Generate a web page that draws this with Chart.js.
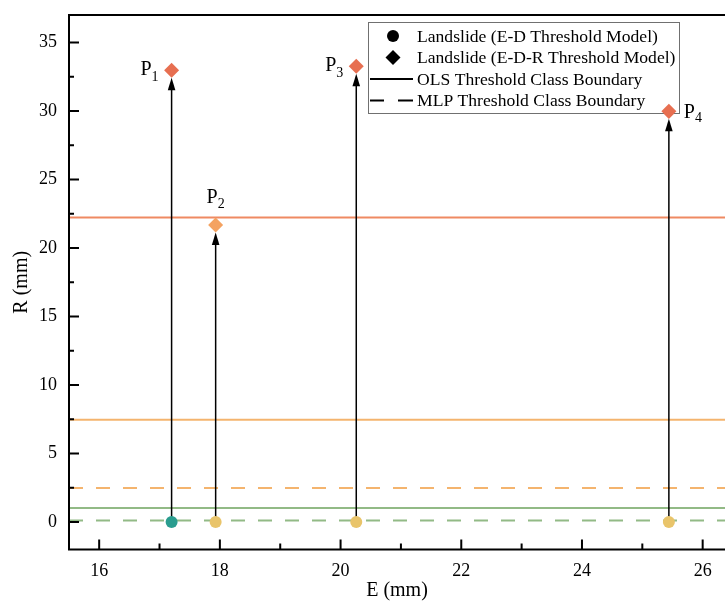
<!DOCTYPE html>
<html>
<head>
    <title>E-D-R Threshold Landslides</title>
    <script src="https://cdn.jsdelivr.net/npm/chart.js@4.4.0/dist/chart.umd.min.js"></script>
    <style>
        html, body { margin: 0; padding: 0; background: #fff; overflow: hidden; }
        #wrap { width: 725px; height: 610px; }
    </style>
</head>
<body>
    <div id="wrap"><canvas id="chart" width="725" height="610"></canvas></div>
    <script>
        // axis ticks
        const xTicks = [16, 18, 20, 22, 24, 26];
        const xMinor = [17, 19, 21, 23, 25];
        const yTicks = [0, 5, 10, 15, 20, 25, 30, 35];
        const yMinor = [2.5, 7.5, 12.5, 17.5, 22.5, 27.5, 32.5];

        // landslide events: E (mm), R from E-D model, R from E-D-R model
        const eValues = [17.20, 17.93, 20.26, 25.44];
        const edValues = [0, 0, 0, 0];
        const edrValues = [32.96, 21.68, 33.26, 29.97];
        const pointNames = ['1', '2', '3', '4'];

        // class boundaries (R, mm)
        const olsLevels = [22.23, 7.47, 1.02];
        const mlpLevels = [2.48, 0.12];

        const legendLabels = [
            'Landslide (E-D Threshold Model)',
            'Landslide (E-D-R Threshold Model)',
            'OLS Threshold Class Boundary',
            'MLP Threshold Class Boundary'
        ];

        const X_MIN = 15.5, X_MAX = 26.37, Y_MIN = -2, Y_MAX = 37;
        const SERIF = "'Times New Roman', 'Liberation Serif', serif";

        const circleColors = ['#2A9D8F', '#E9C46A', '#E9C46A', '#E9C46A'];
        const diamondColors = ['#E76F51', '#F4A261', '#E76F51', '#E76F51'];
        const olsColors = ['#EF8A62', '#F4B46E', '#92BA86'];
        const mlpColors = ['#F4B46E', '#92BA86'];
        const labelPlace = ['left', 'top', 'left', 'right'];

        const datasets = [
            {
                label: 'ED',
                data: eValues.map((e, i) => ({ x: e, y: edValues[i] })),
                pointStyle: 'circle',
                pointRadius: 6,
                pointBackgroundColor: circleColors,
                pointBorderWidth: 0,
                showLine: false
            },
            {
                label: 'EDR',
                data: eValues.map((e, i) => ({ x: e, y: edrValues[i] })),
                pointStyle: 'rectRot',
                pointRadius: 7.5,
                pointBackgroundColor: diamondColors,
                pointBorderWidth: 0,
                showLine: false
            }
        ];
        olsLevels.forEach((v, i) => datasets.push({
            label: 'OLS ' + i,
            data: [{ x: X_MIN, y: v }, { x: X_MAX, y: v }],
            showLine: true,
            borderColor: olsColors[i],
            borderWidth: 2,
            pointRadius: 0
        }));
        mlpLevels.forEach((v, i) => datasets.push({
            label: 'MLP ' + i,
            data: [{ x: X_MIN, y: v }, { x: X_MAX, y: v }],
            showLine: true,
            borderColor: mlpColors[i],
            borderWidth: 2,
            borderDash: [14, 13],
            pointRadius: 0
        }));

        function drawArrows(chart) {
            const ctx = chart.ctx, xs = chart.scales.x, ys = chart.scales.y;
            ctx.save();
            ctx.strokeStyle = '#000';
            ctx.fillStyle = '#000';
            ctx.lineWidth = 1.5;
            eValues.forEach((e, i) => {
                const px = xs.getPixelForValue(e);
                const y0 = ys.getPixelForValue(edValues[i]);
                const tip = ys.getPixelForValue(edrValues[i]) + 7.5;
                ctx.beginPath();
                ctx.moveTo(px, y0);
                ctx.lineTo(px, tip + 10);
                ctx.stroke();
                ctx.beginPath();
                ctx.moveTo(px, tip);
                ctx.lineTo(px - 3.8, tip + 12.5);
                ctx.lineTo(px + 3.8, tip + 12.5);
                ctx.closePath();
                ctx.fill();
            });
            ctx.restore();
        }

        function drawFrame(chart) {
            const ctx = chart.ctx, a = chart.chartArea, xs = chart.scales.x, ys = chart.scales.y;
            ctx.save();
            ctx.strokeStyle = '#000';
            ctx.lineWidth = 2;
            ctx.beginPath();
            ctx.moveTo(a.right, a.top);
            ctx.lineTo(a.left, a.top);
            ctx.lineTo(a.left, a.bottom);
            ctx.lineTo(a.right, a.bottom);
            ctx.stroke();
            ctx.beginPath();
            xTicks.forEach(v => { const p = xs.getPixelForValue(v); ctx.moveTo(p, a.bottom); ctx.lineTo(p, a.bottom - 10); });
            xMinor.forEach(v => { const p = xs.getPixelForValue(v); ctx.moveTo(p, a.bottom); ctx.lineTo(p, a.bottom - 6); });
            yTicks.forEach(v => { const p = ys.getPixelForValue(v); ctx.moveTo(a.left, p); ctx.lineTo(a.left + 10, p); });
            yMinor.forEach(v => { const p = ys.getPixelForValue(v); ctx.moveTo(a.left, p); ctx.lineTo(a.left + 5, p); });
            ctx.stroke();
            ctx.restore();
        }

        function drawPointNames(chart) {
            const ctx = chart.ctx, xs = chart.scales.x, ys = chart.scales.y;
            ctx.save();
            ctx.fillStyle = '#000';
            ctx.textBaseline = 'alphabetic';
            eValues.forEach((e, i) => {
                const px = xs.getPixelForValue(e), py = ys.getPixelForValue(edrValues[i]);
                ctx.font = '20px ' + SERIF;
                const wP = ctx.measureText('P').width;
                ctx.font = '14px ' + SERIF;
                const wS = ctx.measureText(pointNames[i]).width;
                let left, baseP, baseS;
                if (labelPlace[i] === 'left') {
                    left = px - 13 - wP - wS; baseP = py + 4.5; baseS = py + 11;
                } else if (labelPlace[i] === 'right') {
                    left = px + 15; baseP = py + 6.5; baseS = py + 11;
                } else {
                    left = px - (wP + wS) / 2; baseP = py - 22; baseS = py - 16.5;
                }
                ctx.font = '20px ' + SERIF;
                ctx.fillText('P', left, baseP);
                ctx.font = '14px ' + SERIF;
                ctx.fillText(pointNames[i], left + wP, baseS);
            });
            ctx.restore();
        }

        function drawLegend(chart) {
            const ctx = chart.ctx;
            const box = { x: 368.5, y: 22.5, w: 311, h: 91 };
            ctx.save();
            ctx.fillStyle = '#fff';
            ctx.fillRect(box.x, box.y, box.w, box.h);
            ctx.strokeStyle = '#707070';
            ctx.lineWidth = 1;
            ctx.strokeRect(box.x, box.y, box.w, box.h);
            const rows = [36, 57.5, 79, 100.5];
            ctx.fillStyle = '#000';
            ctx.strokeStyle = '#000';
            // circle
            ctx.beginPath();
            ctx.arc(393, rows[0], 6, 0, Math.PI * 2);
            ctx.fill();
            // diamond
            ctx.beginPath();
            ctx.moveTo(393, rows[1] - 7.5);
            ctx.lineTo(400.5, rows[1]);
            ctx.lineTo(393, rows[1] + 7.5);
            ctx.lineTo(385.5, rows[1]);
            ctx.closePath();
            ctx.fill();
            // solid line
            ctx.lineWidth = 2;
            ctx.beginPath();
            ctx.moveTo(370, rows[2]);
            ctx.lineTo(413, rows[2]);
            ctx.stroke();
            // dashed line
            ctx.beginPath();
            ctx.moveTo(370, rows[3]); ctx.lineTo(384, rows[3]);
            ctx.moveTo(398, rows[3]); ctx.lineTo(413, rows[3]);
            ctx.stroke();
            ctx.font = '17.6px ' + SERIF;
            ctx.textBaseline = 'middle';
            legendLabels.forEach((t, i) => ctx.fillText(t, 417, rows[i] + 1));
            ctx.restore();
        }

        const decorations = {
            id: 'decorations',
            afterDatasetDraw(chart, args) {
                if (args.index === 2) drawArrows(chart);
            },
            afterDraw(chart) {
                drawFrame(chart);
                drawLegend(chart);
                // P4 diamond sits over the legend corner
                const xs = chart.scales.x, ys = chart.scales.y, ctx = chart.ctx;
                const px = xs.getPixelForValue(eValues[3]), py = ys.getPixelForValue(edrValues[3]);
                ctx.save();
                ctx.fillStyle = diamondColors[3];
                ctx.beginPath();
                ctx.moveTo(px, py - 7.5); ctx.lineTo(px + 7.5, py);
                ctx.lineTo(px, py + 7.5); ctx.lineTo(px - 7.5, py);
                ctx.closePath();
                ctx.fill();
                ctx.restore();
                drawPointNames(chart);
            }
        };

        function noPad(s) {
            s.paddingTop = 0; s.paddingBottom = 0; s.paddingLeft = 0; s.paddingRight = 0;
        }

        new Chart(document.getElementById('chart').getContext('2d'), {
            type: 'scatter',
            data: { datasets: datasets },
            options: {
                responsive: false,
                animation: false,
                devicePixelRatio: 1,
                layout: { autoPadding: false, padding: { top: 15, right: 0, bottom: 0, left: 0 } },
                plugins: {
                    legend: { display: false },
                    tooltip: { enabled: false }
                },
                scales: {
                    x: {
                        type: 'linear',
                        min: X_MIN,
                        max: X_MAX,
                        afterBuildTicks: s => { s.ticks = xTicks.map(v => ({ value: v })); },
                        afterFit: s => { s.height = 60.5; noPad(s); },
                        grid: { display: false, drawTicks: false },
                        border: { display: false },
                        ticks: { color: '#000', padding: 11, font: { family: SERIF, size: 18 } },
                        title: {
                            display: true,
                            text: 'E (mm)',
                            color: '#000',
                            font: { family: SERIF, size: 20 },
                            padding: { top: 0, bottom: 7 }
                        }
                    },
                    y: {
                        type: 'linear',
                        min: Y_MIN,
                        max: Y_MAX,
                        afterBuildTicks: s => { s.ticks = yTicks.map(v => ({ value: v })); },
                        afterFit: s => { s.width = 69; noPad(s); },
                        grid: { display: false, drawTicks: false },
                        border: { display: false },
                        ticks: { color: '#000', padding: 12, font: { family: SERIF, size: 18 } },
                        title: {
                            display: true,
                            text: 'R (mm)',
                            color: '#000',
                            font: { family: SERIF, size: 20 },
                            padding: { top: 10, bottom: 10 }
                        }
                    }
                }
            },
            plugins: [decorations]
        });
    </script>
</body>
</html>
